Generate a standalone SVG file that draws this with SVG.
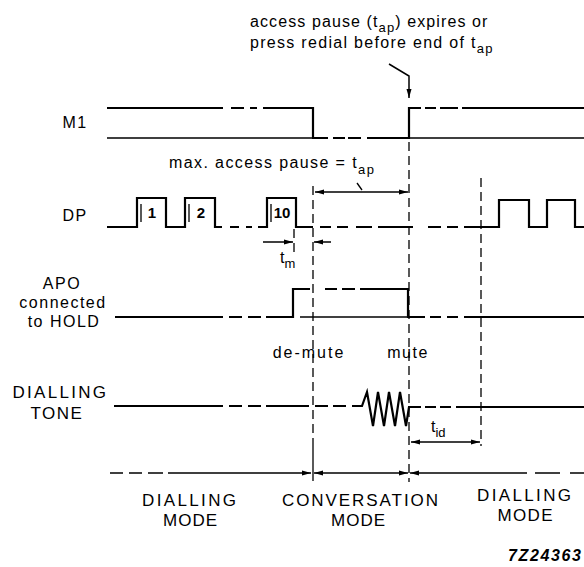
<svg xmlns="http://www.w3.org/2000/svg" width="584" height="567" viewBox="0 0 584 567">
<style>
text { font-family: "Liberation Sans", Arial, sans-serif; fill: #000; font-size: 16px; }
.sig { stroke: #000; stroke-width: 2.2; fill: none; }
.rail { stroke: #000; stroke-width: 1.6; fill: none; }
.thin { stroke: #000; stroke-width: 1.3; fill: none; }
.dash { stroke: #000; stroke-width: 1.3; fill: none; stroke-dasharray: 9 5; }
.arr { stroke: #000; stroke-width: 1.5; fill: none; }
.num { font-weight: bold; font-size: 15px; text-anchor: middle; }
.lab { text-anchor: middle; letter-spacing: 1.5px; }
.mode { font-size: 17px; }
.sub { font-size: 13px; }
</style>
<defs>
<marker id="ah" markerUnits="userSpaceOnUse" markerWidth="10" markerHeight="6" refX="9" refY="3" orient="auto-start-reverse">
<path d="M0,0.5 L9,3 L0,5.5 z" fill="#000"/>
</marker>
</defs>

<g id="annotation">
<text x="250" y="27" letter-spacing="1.1">access pause (t<tspan class="sub" dy="5">ap</tspan><tspan dy="-5">) expires or</tspan></text>
<text x="250" y="48" letter-spacing="1.3">press redial before end of t<tspan class="sub" dy="5">ap</tspan></text>
</g>

<g id="M1">
<text class="lab" x="75" y="128">M1</text>
<path class="sig" d="M107,108 H223 M231,108 H244 M250,108 H257 M263,108 H313 V138 H328 M333,138 H345 M348,138 H361 M367,138 H409 V108 H421 M425,108 H436 M440,108 H458 M462,108 H584"/>
<path class="rail" d="M107,138 H313 M409,138 H584"/>
</g>

<g id="DP">
<text class="lab" x="75" y="221">DP</text>
<path class="sig" d="M107,227 H137 V198 H166 V227 H185 V198 H215 V227 H222 M230,227 H239 M246,227 H252 M258,227 H267 V198 H296 V227 H313 M320,227 H331 M337,227 H348 M356,227 H372 M378,227 H413 M428,227 H441 M447,227 H458 M464,227 H499 V200 H529 V227 H547 V200 H575 V227 H584"/>
<path class="thin" d="M141,204 V222 M189,204 V222 M271,204 V222"/>
<text class="num" x="152" y="218">1</text>
<text class="num" x="201" y="218">2</text>
<text class="num" x="282" y="218">10</text>
</g>

<g id="APO">
<text class="lab" x="62" y="289">APO</text>
<text class="lab" x="63" y="308" letter-spacing="1">connected</text>
<text class="lab" x="64" y="327">to HOLD</text>
<path class="sig" d="M115,317 H223 M229,317 H242 M248,317 H261 M266,317 H293 V289 H310 M325,289 H337 M342,289 H355 M360,289 H408 V317 H425 M430,317 H441 M447,317 H458 M464,317 H584"/>
<path class="rail" d="M300,317 H408"/>
</g>

<g id="TONE">
<text class="lab mode" x="60" y="398" textLength="95" lengthAdjust="spacing">DIALLING</text>
<text class="lab mode" x="57" y="419">TONE</text>
<path class="sig" d="M114,406 H223 M229,406 H242 M248,406 H261 M266,406 H309 M315,406 H328 M333,406 H346 M352,406 H362 L367,392 L373,426 L378,392 L384,426 L389,392 L395,426 L400,392 L406,426 L409,407 H421 M425,407 H436 M440,407 H451 M456,407 H584"/>
</g>

<g id="connectors">
<path class="dash" d="M313,186 V440"/>
<path class="thin" d="M313,440 V481"/>
<path class="dash" d="M409,142 V482"/>
<path class="dash" d="M481,178 V446"/>
<path class="dash" d="M294,229 V252" stroke-dasharray="6 4"/>
<path class="arr" d="M389,64 L409,76 V98" marker-end="url(#ah)"/>
<path class="arr" d="M315,192 H408" marker-start="url(#ah)" marker-end="url(#ah)"/>
<path class="thin" d="M357,183 L362,190"/>
<path class="arr" d="M263,242 H293" marker-end="url(#ah)"/>
<path class="arr" d="M331,242 H314" marker-end="url(#ah)"/>
<path class="arr" d="M411,442 H480" marker-start="url(#ah)" marker-end="url(#ah)"/>
</g>

<g id="timing-labels">
<text x="169" y="168" letter-spacing="1.4">max. access pause = t<tspan class="sub" dy="6">ap</tspan></text>
<text x="280" y="263">t<tspan class="sub" dy="5">m</tspan></text>
<text x="431" y="432">t<tspan class="sub" dy="5">id</tspan></text>
<text x="309" y="358" text-anchor="middle" letter-spacing="2">de-mute</text>
<text x="408" y="358" text-anchor="middle" letter-spacing="1.5">mute</text>
</g>

<g id="modes">
<path class="arr" d="M110,473 H123 M129,473 H142 M148,473 H163 M168,473 H311" marker-end="url(#ah)"/>
<path class="arr" d="M314,473 H408" marker-start="url(#ah)" marker-end="url(#ah)"/>
<path class="arr" d="M410,473 H527" marker-start="url(#ah)"/>
<path class="arr" d="M535,473 H560 M570,473 H584"/>
<text class="mode" x="189" y="506" text-anchor="middle" textLength="94" lengthAdjust="spacing">DIALLING</text>
<text class="mode" x="190" y="526" text-anchor="middle" textLength="54" lengthAdjust="spacing">MODE</text>
<text class="mode" x="360" y="506" text-anchor="middle" textLength="156" lengthAdjust="spacing">CONVERSATION</text>
<text class="mode" x="358" y="526" text-anchor="middle" textLength="54" lengthAdjust="spacing">MODE</text>
<text class="mode" x="524" y="501" text-anchor="middle" textLength="94" lengthAdjust="spacing">DIALLING</text>
<text class="mode" x="525" y="521" text-anchor="middle" textLength="55" lengthAdjust="spacing">MODE</text>
</g>

<text x="581" y="561" text-anchor="end" font-weight="bold" font-style="italic" font-size="15" textLength="73" lengthAdjust="spacing">7Z24363</text>
</svg>
